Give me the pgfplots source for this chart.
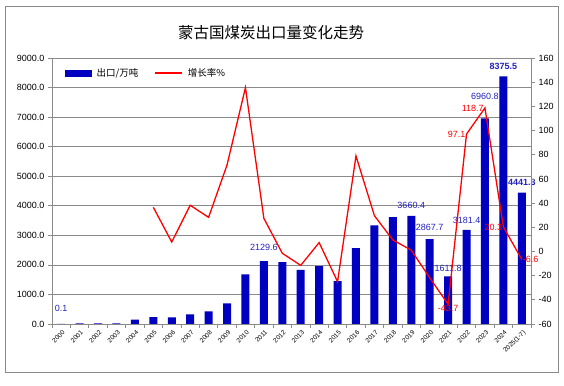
\documentclass[border=0pt]{standalone}
\usepackage{fontspec}
\setmainfont{Liberation Sans}
\newfontfamily\cjk{Noto Sans CJK SC}
\usepackage{pgfplots}
\pgfplotsset{compat=1.18}
\usepackage{pgfplotstable}

\definecolor{barblue}{HTML}{0000C0}
\definecolor{labblue}{HTML}{2222C0}
\definecolor{gridgray}{HTML}{8A8A8A}
\definecolor{linered}{HTML}{FF0000}

\pgfplotsset{
  bluelegend/.style={legend image code/.code={\fill[barblue] (0pt,-3pt) rectangle (26pt,3pt);}},
  redlegend/.style={legend image code/.code={\draw[draw=linered, line width=1.5pt] (0pt,0pt) -- (27pt,0pt);}},
}

\pgfplotstableread{
x val lab dy
0 0.1 0.1 16
1 25 {} 0
2 25 {} 0
3 25 {} 0
4 150 {} 0
5 235 {} 0
6 225 {} 0
7 325 {} 0
8 430 {} 0
9 700 {} 0
10 1680 {} 0
11 2129.6 2129.6 14
12 2090 {} 0
13 1830 {} 0
14 1960 {} 0
15 1450 {} 0
16 2570 {} 0
17 3340 {} 0
18 3620 {} 0
19 3660.4 3660.4 10
20 2867.7 2867.7 12
21 1611.8 1611.8 8
22 3181.4 3181.4 10
23 6960.8 6960.8 22
24 8375.5 \textbf{8375.5} 10
25 4441.3 \textbf{4441.3} 10
}\bars

\pgfplotstableread{
x g
5 36.5
6 7.8
7 38.2
8 28.2
9 71.5
10 135.5
11 27.4
12 -1.5
13 -11.5
14 7.3
15 -25.0
16 79.0
17 29.6
18 9.5
19 1.1
20 -21.7
21 -43.7
22 97.1
23 118.7
24 20.3
25 -6.6
}\growth

\begin{document}
\begin{tikzpicture}
\path[use as bounding box] (0pt,0pt) rectangle (564pt,-385pt);
\draw[gridgray, line width=0.8pt] (5pt,-6.5pt) rectangle (558pt,-372.5pt);
\node[font=\cjk\fontsize{15.5}{16}\selectfont] at (271pt,-33pt) {蒙古国煤炭出口量变化走势};

\begin{axis}[
  scale only axis, width=479pt, height=266pt,
  at={(52pt,-58pt)}, anchor=north west,
  xmin=-0.5, xmax=25.5, ymin=0, ymax=9000,
  ytick distance=1000,
  axis y line*=left, axis x line*=bottom,
  axis line style={gridgray, line width=0.8pt},
  ymajorgrids, grid style={gridgray, line width=0.7pt},
  tick align=outside, major tick length=4pt,
  ytick style={gridgray, line width=0.7pt},
  xtick={0,...,25},
  xticklabels={2000,2001,2002,2003,2004,2005,2006,2007,2008,2009,2010,2011,2012,2013,2014,2015,2016,2017,2018,2019,2020,2021,2022,2023,2024,2025(1-7)},
  major x tick style={draw=none},
  minor xtick={-0.5,0.5,...,25.5},
  minor x tick style={gridgray, line width=0.7pt},
  minor tick length=4pt,
  xticklabel style={rotate=45, anchor=north east, font=\fontsize{6.5}{7}\selectfont, inner sep=0.5pt, yshift=-1pt},
  yticklabel style={font=\fontsize{9}{10}\selectfont},
  /pgf/number format/assume math mode=true,
  yticklabel={\pgfmathprintnumber[fixed, fixed zerofill, precision=1, 1000 sep={}]{\tick}},
]
\addplot[ybar, bar width=8pt, fill=barblue, draw=none,
  nodes near coords, point meta=explicit symbolic,
  visualization depends on={\thisrow{dy}\as\dy},
  nodes near coords style={anchor=center, yshift=\dy, text=labblue, font=\fontsize{9}{10}\selectfont, inner sep=0pt}]
  table[x=x, y=val, meta=lab] {\bars};
\end{axis}

\begin{axis}[
  scale only axis, width=479pt, height=266pt,
  at={(52pt,-58pt)}, anchor=north west,
  xmin=-0.5, xmax=25.5, ymin=-60, ymax=160,
  ytick distance=20,
  axis y line*=right, axis x line=none,
  axis line style={gridgray, line width=0.8pt},
  tick align=outside, major tick length=4pt,
  ytick style={gridgray, line width=0.7pt},
  yticklabel style={font=\fontsize{9}{10}\selectfont},
  /pgf/number format/assume math mode=true,
  legend style={draw=none, fill=none, at={(0.027,0.943)}, anchor=west,
    font=\cjk\fontsize{9.5}{10}\selectfont, inner sep=0pt,
    /tikz/every odd column/.append style={column sep=3pt},
    /tikz/every even column/.append style={column sep=14pt}},
  legend columns=2, legend cell align=left,
  every node near coord/.append style={text=red, font=\fontsize{9}{10}\selectfont, inner sep=1pt},
]
\addlegendimage{bluelegend}
\addlegendentry{出口/万吨}
\addlegendimage{redlegend}
\addlegendentry{增长率\%}
\addplot[linered, line width=1.3pt, no markers, forget plot]
  table[x=x, y=g] {\growth};
\addplot[draw=none, forget plot, nodes near coords, point meta=explicit symbolic,
  nodes near coords style={anchor=east}]
  coordinates {(22,97.1)[97.1] (23,118.7)[118.7] (24,20.3)[20.3]};
\addplot[draw=none, forget plot, nodes near coords, point meta=explicit symbolic,
  nodes near coords style={anchor=north}]
  coordinates {(21,-43.7)[-43.7]};
\addplot[draw=none, forget plot, nodes near coords, point meta=explicit symbolic,
  nodes near coords style={anchor=west}]
  coordinates {(25,-6.6)[-6.6]};
\end{axis}
\end{tikzpicture}
\end{document}
